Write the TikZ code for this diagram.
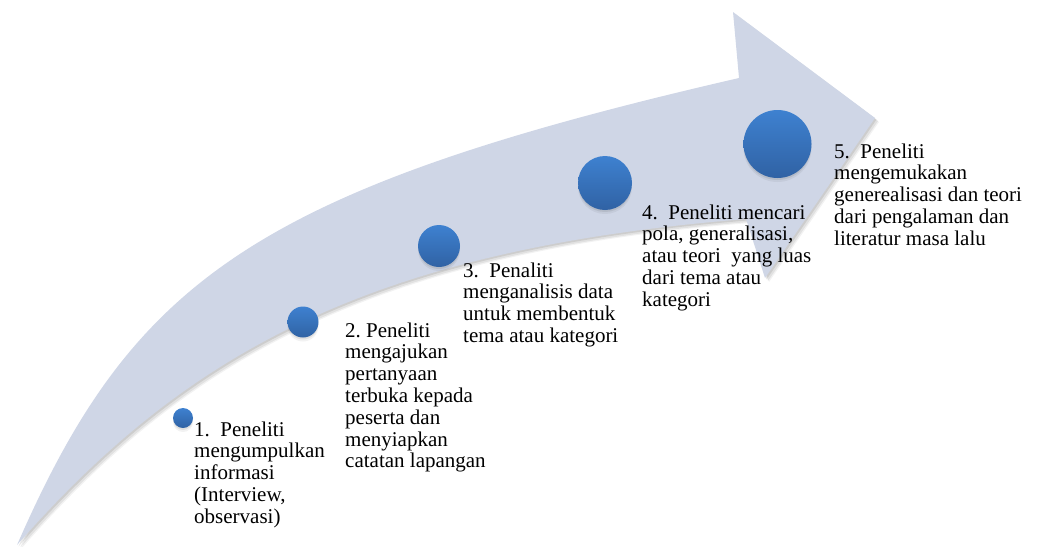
\documentclass[tikz,border=0pt]{standalone}
\usepackage{fontspec}
\setmainfont{Liberation Serif}
\definecolor{arrowfill}{RGB}{207,214,230}
\definecolor{ballTop}{RGB}{62,129,208}
\definecolor{ballBot}{RGB}{48,98,164}
\newcommand{\steptext}[1]{\begin{tabular}[t]{@{}l@{}}#1\end{tabular}}
\frenchspacing
\begin{document}
\begin{tikzpicture}[x=1pt,y=-1pt,
  arrowshape/.style={insert path={(17,545) .. controls (132,282) and (252,190) .. (739,78) -- (733,12) -- (875,118) -- (765,278) -- (746,219) .. controls (365,249.5) and (182,357) .. (17,545) -- cycle}},
  ball/.style={circle,inner sep=0pt,draw=none,top color=ballTop,bottom color=ballBot},
  steplabel/.style={anchor=base west,inner sep=0pt,font=\fontsize{21}{21.8}\selectfont}]
\useasboundingbox (0,0) rectangle (1040,546);
% arrow shadow
\fill[black,opacity=0.05,xshift=4pt,yshift=-4pt,arrowshape];
\fill[black,opacity=0.07,xshift=3pt,yshift=-3pt,arrowshape];
\fill[black,opacity=0.09,xshift=1.5pt,yshift=-1.5pt,arrowshape];
% arrow
\fill[arrowfill,arrowshape];
% ball shadows (soft, below)
\foreach \x/\y/\r in {183/418/10,303/322/15.5,439/246/21,605/183/27,777.5/144/34}{
  \fill[black,opacity=0.05] (\x,\y+4) circle[radius=\r];
  \fill[black,opacity=0.08] (\x,\y+2.5) circle[radius=\r-0.5];
}
% balls
\node[ball,minimum size=20pt] (b1) at (183,418) {};
\node[ball,minimum size=31pt] (b2) at (303,322) {};
\node[ball,minimum size=42pt] (b3) at (439,246) {};
\node[ball,minimum size=54pt] (b4) at (605,183) {};
\node[ball,minimum size=68pt] (b5) at (777.5,144) {};
% labels
\node[steplabel] (t1) at (194,436) {\steptext{1.\ \ Peneliti\\mengumpulkan\\informasi\\(Interview,\\observasi)}};
\node[steplabel] (t2) at (345,337) {\steptext{2. Peneliti\\mengajukan\\pertanyaan\\terbuka kepada\\peserta dan\\menyiapkan\\catatan lapangan}};
\node[steplabel] (t3) at (463,277) {\steptext{3.\ \ Penaliti\\menganalisis data\\untuk membentuk\\tema atau kategori}};
\node[steplabel] (t4) at (642,219) {\steptext{4.\ \ Peneliti mencari\\pola, generalisasi,\\atau teori\ \ yang luas\\dari tema atau\\kategori}};
\node[steplabel] (t5) at (834,158) {\steptext{5.\ \ Peneliti\\mengemukakan\\generealisasi dan teori\\dari pengalaman dan\\literatur masa lalu}};
\end{tikzpicture}
\end{document}
